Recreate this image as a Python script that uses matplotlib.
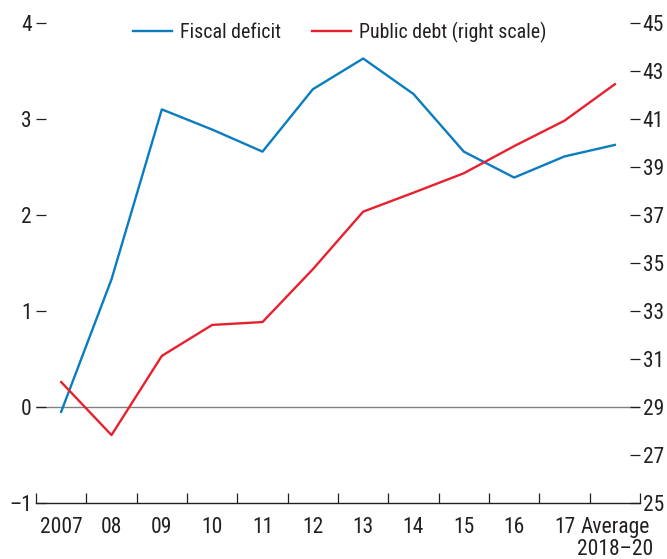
import matplotlib
matplotlib.use("Agg")
import matplotlib.pyplot as plt
from matplotlib import font_manager
import numpy as np

categories = ["2007", "08", "09", "10", "11", "12", "13", "14", "15", "16", "17", "Average\n2018–20"]
fiscal_deficit = [-0.05, 1.33, 3.10, 2.89, 2.66, 3.31, 3.63, 3.26, 2.66, 2.39, 2.61, 2.73]
public_debt = [30.04, 27.83, 31.13, 32.42, 32.54, 34.74, 37.14, 37.93, 38.74, 39.87, 40.93, 42.45]
left_ticks = [-1, 0, 1, 2, 3, 4]
right_ticks = [25, 27, 29, 31, 33, 35, 37, 39, 41, 43, 45]

available = {f.name for f in font_manager.fontManager.ttflist}
narrow = [n for n in ["Liberation Sans Narrow", "Arial Narrow", "Roboto Condensed",
                      "Open Sans Condensed"] if n in available]
if narrow:
    FAM = [narrow[0], "DejaVu Sans"]
    FS = 15.5
    LFS = 14.3
else:
    FAM = ["Liberation Sans", "DejaVu Sans"]
    FS = 13.5
    LFS = 12.8
plt.rcParams['font.family'] = FAM
plt.rcParams['axes.unicode_minus'] = True

BLUE = "#0a7cc0"
RED = "#e8202e"
TXT = "#231f20"

fig = plt.figure(figsize=(6.67, 5.59), dpi=100)
ax = fig.add_axes([36/667, 56/559, 604/667, 480/559])
ax2 = ax.twinx()

x = np.arange(len(categories))
ax.axhline(0, color="#808080", lw=1.0, zorder=1)
l1, = ax.plot(x, fiscal_deficit, color=BLUE, lw=1.7, zorder=3, label="Fiscal deficit")
l2, = ax2.plot(x, public_debt, color=RED, lw=1.7, zorder=3, label="Public debt (right scale)")

ax.set_xlim(-0.5, len(categories) - 0.5)
ax.set_ylim(-1, 4)
ax2.set_ylim(25, 45)

for a in (ax, ax2):
    for s in ("left", "right", "top"):
        a.spines[s].set_visible(False)
ax2.spines["bottom"].set_visible(False)
ax.spines["bottom"].set_color(TXT)
ax.spines["bottom"].set_linewidth(1.0)

ax.set_yticks(left_ticks)
ax.set_yticklabels([f"{v}" if v >= 0 else f"–{abs(v)}" for v in left_ticks])
ax.tick_params(axis="y", direction="in", length=7, width=0.9, color=TXT,
               labelsize=FS, labelcolor=TXT, pad=3)
ax2.set_yticks(right_ticks)
ax2.tick_params(axis="y", direction="in", length=7, width=0.9, color=TXT,
                labelsize=FS, labelcolor=TXT, pad=2)

ax.set_xticks(x)
ax.set_xticklabels(categories, fontsize=FS, color=TXT, linespacing=1.1)
ax.tick_params(axis="x", which="major", length=0, pad=10)
ax.set_xticks(np.arange(-0.5, len(categories)), minor=True)
ax.tick_params(axis="x", which="minor", direction="in", length=7, width=0.9, color=TXT)

leg = fig.legend(handles=[l1, l2], loc="center left",
                 bbox_to_anchor=(133/667, 1 - 32/559), bbox_transform=fig.transFigure,
                 ncol=2, frameon=False, fontsize=LFS, handlelength=1.95,
                 handletextpad=0.4, columnspacing=1.6, labelcolor=TXT,
                 borderpad=0, borderaxespad=0)

fig.savefig("out.png", dpi=100)
